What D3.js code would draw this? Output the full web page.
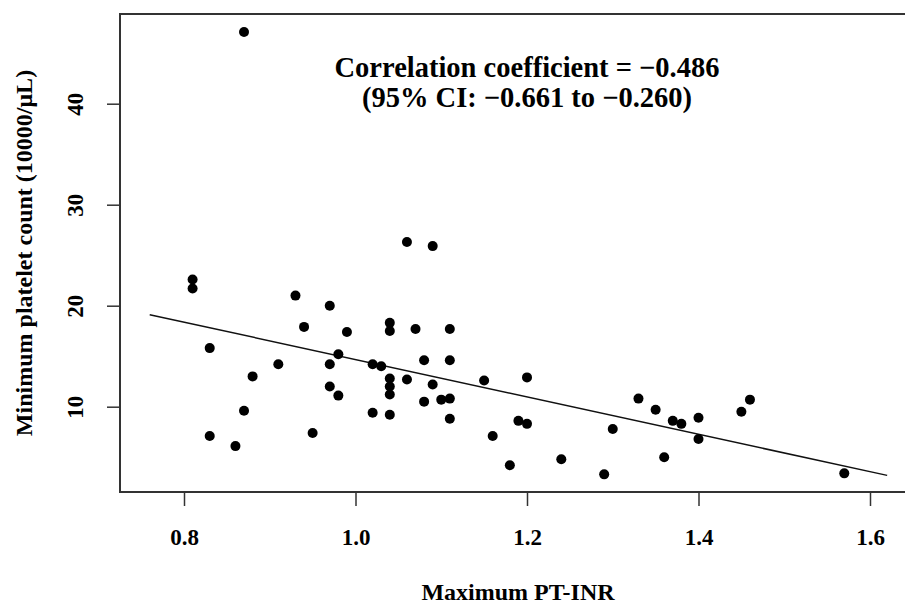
<!DOCTYPE html>
<html>
<head>
<meta charset="utf-8">
<title>Platelet count vs PT-INR</title>
<script src="https://cdn.jsdelivr.net/npm/d3@7"></script>
<style>
body {
	margin: 0;
	background: #fff;
}

text {
	font-family: "Liberation Serif", "Times New Roman", serif;
	font-weight: bold;
	fill: #000;
}

.frame {
	stroke: #333;
	stroke-width: 2px;
}

.axis path {
	display: none;
}

.axis line {
	stroke: #333;
	stroke-width: 1.5px;
}

.fit {
	fill: none;
	stroke: #111;
	stroke-width: 1.5px;
}
</style>
</head>
<body>
<div id="chart"></div>
<script>
// maximum PT-INR per patient
var inr = [0.87, 1.06, 1.09, 0.81, 0.81, 0.93, 0.97, 1.04, 1.04, 0.94,
	1.07, 1.11, 0.99, 0.83, 0.98, 0.91, 0.97, 1.02, 1.03, 1.08,
	1.11, 0.88, 1.04, 1.06, 1.04, 1.09, 0.97, 1.15, 0.98, 1.04,
	1.08, 1.10, 1.11, 0.87, 1.02, 1.04, 1.11, 0.83, 0.86, 0.95,
	1.16, 1.18, 1.20, 1.19, 1.20, 1.24, 1.29, 1.30, 1.33, 1.35,
	1.37, 1.38, 1.40, 1.40, 1.36, 1.45, 1.46, 1.57];

// minimum platelet count (10000/uL)
var plt = [47.1, 26.3, 25.9, 22.6, 21.7, 21.0, 20.0, 18.3, 17.5, 17.9,
	17.7, 17.7, 17.4, 15.8, 15.2, 14.2, 14.2, 14.2, 14.0, 14.6,
	14.6, 13.0, 12.8, 12.7, 12.0, 12.2, 12.0, 12.6, 11.1, 11.2,
	10.5, 10.7, 10.8, 9.6, 9.4, 9.2, 8.8, 7.1, 6.1, 7.4,
	7.1, 4.2, 12.9, 8.6, 8.3, 4.8, 3.3, 7.8, 10.8, 9.7,
	8.6, 8.3, 8.9, 6.8, 5.0, 9.5, 10.7, 3.4];

var xTicks = [0.8, 1.0, 1.2, 1.4, 1.6];
var yTicks = [10, 20, 30, 40];

// least squares line, drawn over this INR range
var fitRange = [0.76, 1.62];
var fitIntercept = 33.17;
var fitSlope = -18.5;

var labelLines = ["Correlation coefficient = \u22120.486",
	"(95% CI: \u22120.661 to \u22120.260)"];

var width = 905;
var height = 605;
var boxLeft = 120, boxTop = 14, boxBottom = 492;

var x = d3.scaleLinear().domain([0.8, 1.6]).range([184, 870]);
var y = d3.scaleLinear().domain([10, 40]).range([406.7, 103.7]);

var svg = d3.select("#chart").append("svg")
	.attr("width", width).attr("height", height);

// frame (right side falls outside the picture)
svg.append("path").attr("class", "frame").attr("fill", "none")
	.attr("d", "M" + (width + 5) + "," + boxTop + "H" + boxLeft + "V" + boxBottom + "H" + (width + 5));

var xAxis = svg.append("g").attr("class", "axis")
	.attr("transform", "translate(0," + boxBottom + ")")
	.call(d3.axisBottom(x).tickValues(xTicks).tickFormat(d3.format(".1f"))
		.tickSize(14));
xAxis.selectAll("text").style("font-size", "23px").attr("dy", 0)
	.attr("y", 53);

var yAxis = svg.append("g").attr("class", "axis")
	.attr("transform", "translate(" + boxLeft + ",0)")
	.call(d3.axisLeft(y).tickValues(yTicks).tickSize(13));
yAxis.selectAll("text").style("font-size", "23px")
	.attr("transform", "rotate(-90)")
	.attr("text-anchor", "middle")
	.attr("x", 0).attr("y", -37).attr("dy", 0);

svg.append("line").attr("class", "fit")
	.attr("x1", x(fitRange[0])).attr("y1", y(fitIntercept + fitSlope * fitRange[0]))
	.attr("x2", x(fitRange[1])).attr("y2", y(fitIntercept + fitSlope * fitRange[1]));

svg.selectAll("circle.pt").data(inr).enter().append("circle")
	.attr("class", "pt")
	.attr("cx", function(d) { return x(d); })
	.attr("cy", function(d, i) { return y(plt[i]); })
	.attr("r", 5)
	.attr("fill", "#000");

svg.selectAll("text.note").data(labelLines).enter().append("text")
	.attr("class", "note")
	.attr("x", 527)
	.attr("y", function(d, i) { return 77 + i * 29.5; })
	.attr("text-anchor", "middle")
	.style("font-size", "28.5px")
	.text(function(d) { return d; });

svg.append("text")
	.attr("x", 518).attr("y", 600)
	.attr("text-anchor", "middle")
	.style("font-size", "24px")
	.text("Maximum PT-INR");

svg.append("text")
	.attr("transform", "translate(32,253) rotate(-90)")
	.attr("text-anchor", "middle")
	.style("font-size", "24px")
	.text("Minimum platelet count (10000/\u03bcL)");
</script>
</body>
</html>
